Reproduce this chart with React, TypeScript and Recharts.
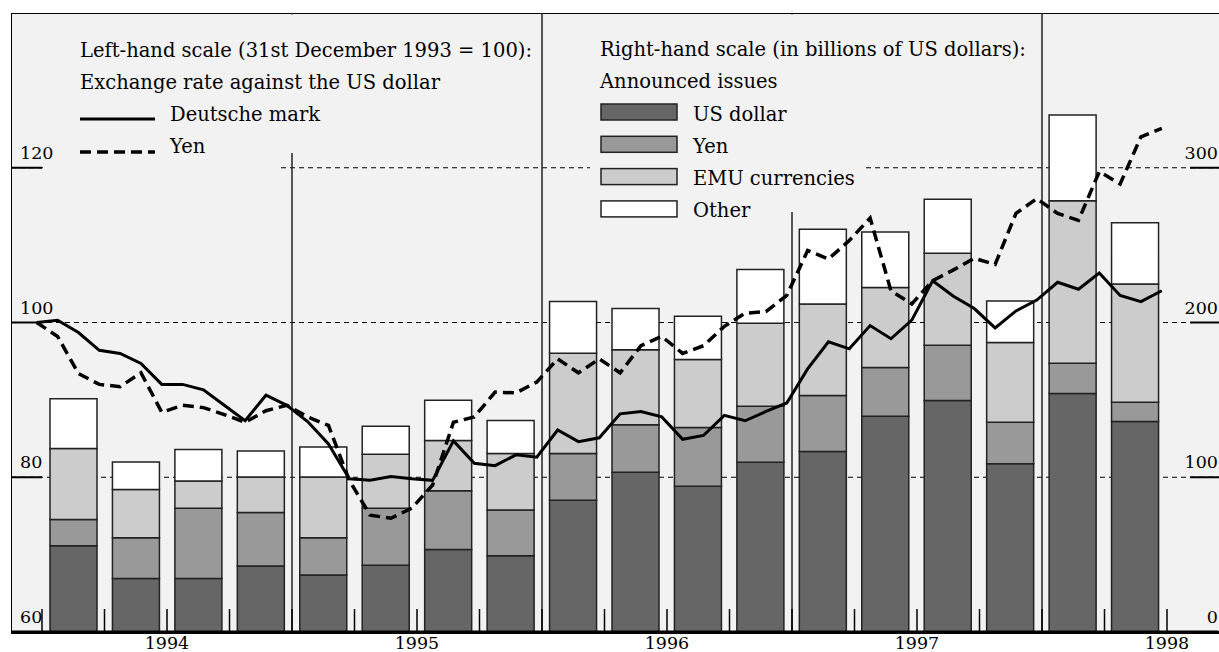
import { ComposedChart, Bar, Line, XAxis, YAxis, CartesianGrid, ReferenceLine } from 'recharts';

// quarterly announced issues, billions of US dollars (right-hand scale)
const quarters = [
  '1994 Q1', '1994 Q2', '1994 Q3', '1994 Q4',
  '1995 Q1', '1995 Q2', '1995 Q3', '1995 Q4',
  '1996 Q1', '1996 Q2', '1996 Q3', '1996 Q4',
  '1997 Q1', '1997 Q2', '1997 Q3', '1997 Q4',
  '1998 Q1', '1998 Q2',
];
const usdIssues = [55.7, 34.6, 34.6, 42.6, 36.8, 43.2, 53.3, 49.2, 85.2, 103.2, 94.2, 109.7, 116.6, 139.4, 149.6, 108.7, 154.1, 136];
const yenIssues = [17, 26.3, 45.4, 34.6, 24.1, 36.8, 37.9, 29.7, 30.1, 30.8, 37.9, 36.1, 36.2, 31.6, 35.7, 26.8, 19.6, 12.5];
const emuIssues = [45.8, 31.2, 17.6, 23, 39.3, 34.8, 32.5, 36.4, 64.9, 48.4, 44, 53.7, 59.1, 51.6, 59.5, 51.6, 105, 76.3];
const otherIssues = [32.3, 17.8, 20.3, 16.8, 19.4, 18.1, 26, 21.3, 33.3, 26.6, 28, 34.7, 48.4, 35.9, 34.8, 26.8, 55.4, 39.6];

// monthly exchange rates against the US dollar, Dec 1993 = 100 (left-hand scale)
const dmRate = [
  100, 100.3, 98.7, 96.4, 96.0, 94.7, 92.0, 92.0, 91.3, 89.3, 87.3, 90.6, 89.3,
  87.2, 84.3, 79.8, 79.6, 80.1, 79.8, 79.6, 84.7, 81.8, 81.5, 82.9, 82.6,
  86.1, 84.6, 85.1, 88.2, 88.5, 87.8, 84.9, 85.4, 88.0, 87.3, 88.5, 89.6,
  94.0, 97.5, 96.6, 99.6, 97.9, 100.3, 105.4, 103.4, 101.8, 99.3, 101.5, 102.9,
  105.2, 104.3, 106.4, 103.5, 102.7, 104.1,
];
const yenRate = [
  100, 98.2, 93.4, 92.0, 91.7, 93.5, 88.4, 89.3, 89.0, 88.1, 87.1, 88.6, 89.3,
  87.8, 86.7, 79.6, 75.1, 74.7, 76.0, 79.0, 87.1, 87.8, 91.0, 90.9, 92.3,
  95.3, 93.5, 95.3, 93.5, 97.0, 98.2, 96.0, 97.0, 99.5, 101.2, 101.4, 103.5,
  109.3, 108.2, 110.6, 113.5, 104.1, 102.4, 105.4, 106.8, 108.3, 107.5, 114.1, 116.0,
  114.1, 113.2, 119.5, 117.9, 124.0, 125.1,
];

const leftTicks = [60, 80, 100, 120];
const rightTicks = [0, 100, 200, 300];
const yearLabels = ['1994', '1995', '1996', '1997', '1998'];
// months counted from the start of 1994
const quarterTicks = [0, 3, 6, 9, 12, 15, 18, 21, 24, 27, 30, 33, 36, 39, 42, 45, 48, 51, 54];
const yearBreaks = [12, 24, 36, 48];

const issueSeries = [
  { key: 'usd', name: 'US dollar', color: '#666666' },
  { key: 'yen', name: 'Yen', color: '#999999' },
  { key: 'emu', name: 'EMU currencies', color: '#cccccc' },
  { key: 'other', name: 'Other', color: '#ffffff' },
];

const barData = quarters.map((q, i) => ({
  quarter: q,
  usd: usdIssues[i],
  yen: yenIssues[i],
  emu: emuIssues[i],
  other: otherIssues[i],
}));
// monthly readings sit a little before each month boundary
const lineData = dmRate.map((v, i) => ({ month: i - 0.25, dm: v, yen: yenRate[i] }));

const W = 1219;
const H = 652;
const LEFT = 11;
const TOP = 13;
const BOTTOM = 632;
const FONT = '"DejaVu Serif", serif';
const FS = 19.5;
const TICK_FS = 17.5;

function LeftTick(props: any) {
  const { y, payload } = props;
  return (
    <g>
      <line x1={LEFT} x2={42} y1={y} y2={y} stroke="#000" strokeWidth={2} />
      <text x={20} y={y - 9} fontFamily={FONT} fontSize={TICK_FS} fill="#000">{payload.value}</text>
    </g>
  );
}

function RightTick(props: any) {
  const { y, payload } = props;
  return (
    <g>
      <line x1={1190} x2={W} y1={y} y2={y} stroke="#000" strokeWidth={2} />
      <text x={W - 1} y={y - 9} textAnchor="end" fontFamily={FONT} fontSize={TICK_FS} fill="#000">{payload.value}</text>
    </g>
  );
}

function QuarterTick(props: any) {
  const { x, payload } = props;
  const v = payload.value as number;
  const isMidYear = v % 12 === 6;
  return (
    <g>
      <line x1={x} x2={x} y1={BOTTOM - 23} y2={BOTTOM} stroke="#000" strokeWidth={1.5} />
      {isMidYear && (
        <text x={x} y={BOTTOM + 17} textAnchor="middle" fontFamily={FONT} fontSize={TICK_FS} fill="#000">
          {yearLabels[(v - 6) / 12]}
        </text>
      )}
    </g>
  );
}

export default function App() {
  return (
    <div style={{ position: 'fixed', left: 0, top: 0, width: W, height: H, background: '#fff', overflow: 'hidden' }}>
      <div
        style={{
          position: 'absolute',
          left: LEFT,
          top: TOP,
          width: W - LEFT,
          height: BOTTOM - TOP + 1.5,
          background: '#f2f2f2',
          borderLeft: '1.5px solid #000',
          borderTop: '1.5px solid #000',
          borderBottom: '3px solid #000',
          boxSizing: 'border-box',
        }}
      />
      <div style={{ position: 'absolute', left: 0, top: 0 }}>
        <ComposedChart width={W} height={H} data={barData} margin={{ top: TOP, right: 0, bottom: 0, left: LEFT - 1 }}>
          <CartesianGrid
            xAxisId="t"
            yAxisId="l"
            vertical={false}
            horizontalValues={[80, 100, 120]}
            stroke="#000"
            strokeDasharray="5 4"
            strokeWidth={1}
          />
          <XAxis
            xAxisId="t"
            dataKey="month"
            type="number"
            domain={[-1.488, 56.448]}
            allowDataOverflow
            ticks={quarterTicks}
            interval={0}
            tick={<QuarterTick />}
            tickLine={false}
            axisLine={{ stroke: '#000', strokeWidth: 3 }}
            height={20}
          />
          <XAxis
            xAxisId="q"
            dataKey="quarter"
            type="category"
            orientation="top"
            height={0}
            hide
            padding={{ left: 31, right: 52 }}
          />
          <YAxis
            yAxisId="l"
            orientation="left"
            width={1}
            domain={[60, 140]}
            allowDataOverflow
            ticks={leftTicks}
            interval={0}
            tick={<LeftTick />}
            tickLine={false}
            axisLine={false}
          />
          <YAxis
            yAxisId="r"
            orientation="right"
            width={1}
            domain={[0, 400]}
            allowDataOverflow
            ticks={rightTicks}
            interval={0}
            tick={<RightTick />}
            tickLine={false}
            axisLine={false}
          />
          {yearBreaks.map((m) => (
            <ReferenceLine key={m} xAxisId="t" yAxisId="l" x={m} stroke="#222" strokeWidth={1.5} />
          ))}
          {issueSeries.map((s) => (
            <Bar
              key={s.key}
              xAxisId="q"
              yAxisId="r"
              dataKey={s.key}
              name={s.name}
              stackId="issues"
              fill={s.color}
              stroke="#222"
              strokeWidth={1.5}
              barSize={47}
              isAnimationActive={false}
            />
          ))}
          <Line
            data={lineData}
            xAxisId="t"
            yAxisId="l"
            dataKey="dm"
            name="Deutsche mark"
            stroke="#000"
            strokeWidth={3}
            dot={false}
            type="linear"
            isAnimationActive={false}
          />
          <Line
            data={lineData}
            xAxisId="t"
            yAxisId="l"
            dataKey="yen"
            name="Yen"
            stroke="#000"
            strokeWidth={3.5}
            strokeDasharray="11 6"
            dot={false}
            type="linear"
            isAnimationActive={false}
          />
        </ComposedChart>
      </div>
      <svg width={W} height={H} style={{ position: 'absolute', left: 0, top: 0, pointerEvents: 'none' }}>
        {/* legend panels hide the grid behind them */}
        <rect x={56} y={14.5} width={244} height={138.5} fill="#f2f2f2" />
        <rect x={43} y={162} width={235} height={10} fill="#f2f2f2" />
        <rect x={590} y={14.5} width={275} height={197.5} fill="#f2f2f2" />
        <g fontFamily={FONT} fontSize={FS} fill="#000">
          <text x={80} y={57}>Left-hand scale (31st December 1993 = 100):</text>
          <text x={80} y={89}>Exchange rate against the US dollar</text>
          <line x1={80} x2={155} y1={119} y2={119} stroke="#000" strokeWidth={3} />
          <text x={170} y={121}>Deutsche mark</text>
          <line x1={80} x2={155} y1={152} y2={152} stroke="#000" strokeWidth={3.5} strokeDasharray="11 6" />
          <text x={170} y={153}>Yen</text>
          <text x={600} y={56}>Right-hand scale (in billions of US dollars):</text>
          <text x={600} y={87.5}>Announced issues</text>
          {issueSeries.map((s, i) => (
            <g key={s.key}>
              <rect x={601} y={104 + i * 32.3} width={76} height={16} fill={s.color} stroke="#222" strokeWidth={1.5} />
              <text x={693} y={121 + i * 32}>{s.name}</text>
            </g>
          ))}
        </g>
      </svg>
    </div>
  );
}
